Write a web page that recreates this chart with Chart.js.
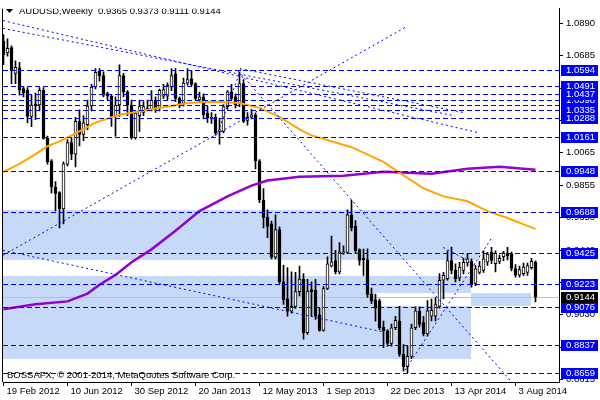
<!DOCTYPE html>
<html>
<head>
<meta charset="utf-8">
<title>AUDUSD Weekly</title>
<script src="https://cdn.jsdelivr.net/npm/chart.js@4.4.1/dist/chart.umd.min.js"></script>
<style>
  html, body { margin: 0; padding: 0; background: #ffffff; }
  canvas { display: block; }
</style>
</head>
<body>
<canvas id="chart" width="600" height="400"></canvas>
<script>
// weekly candles, bar 0 = week of 19 Feb 2012
const opens = [
  1.0776, 1.0700, 1.0735, 1.0570, 1.0605, 1.0473, 1.0462, 1.0295, 1.0375, 1.0368,
  1.0462, 1.0155, 1.0012, 0.9845, 0.9810, 0.9705, 0.9990, 1.0128, 1.0055, 1.0263,
  1.0180, 1.0243, 1.0362, 1.0483, 1.0585, 1.0556, 1.0441, 1.0425, 1.0295, 1.0368,
  1.0556, 1.0452, 1.0368, 1.0160, 1.0300, 1.0320, 1.0348, 1.0337, 1.0400, 1.0348,
  1.0424, 1.0424, 1.0483, 1.0567, 1.0410, 1.0379, 1.0508, 1.0535, 1.0504, 1.0400,
  1.0420, 1.0316, 1.0280, 1.0290, 1.0200, 1.0200, 1.0358, 1.0452, 1.0420, 1.0379,
  1.0504, 1.0270, 1.0290, 1.0306, 1.0012, 0.9762, 0.9651, 0.9610, 0.9397, 0.9573,
  0.9240, 0.9131, 0.9052, 0.9083, 0.9177, 0.9257, 0.8916, 0.9190, 0.9186, 0.9030,
  0.8930, 0.9197, 0.9340, 0.9375, 0.9303, 0.9425, 0.9428, 0.9668, 0.9594, 0.9445,
  0.9390, 0.9380, 0.9160, 0.9125, 0.9118, 0.8950, 0.8927, 0.8846, 0.8947, 0.8989,
  0.8777, 0.8698, 0.8764, 0.8947, 0.9052, 0.8980, 0.8907, 0.9020, 0.9020, 0.9083,
  0.9250, 0.9260, 0.9375, 0.9313, 0.9265, 0.9313, 0.9360, 0.9370, 0.9230, 0.9300,
  0.9313, 0.9365, 0.9428, 0.9355, 0.9370, 0.9400, 0.9422, 0.9420, 0.9325, 0.9282,
  0.9292, 0.9300, 0.9330, 0.9365
];
const highs = [
  1.0818, 1.0790, 1.0745, 1.0650, 1.0640, 1.0485, 1.0480, 1.0431, 1.0444, 1.0480,
  1.0480, 1.0170, 1.0020, 0.9880, 0.9816, 1.0005, 1.0147, 1.0160, 1.0290, 1.0337,
  1.0300, 1.0400, 1.0500, 1.0600, 1.0600, 1.0580, 1.0450, 1.0431, 1.0420, 1.0625,
  1.0570, 1.0460, 1.0400, 1.0330, 1.0400, 1.0390, 1.0400, 1.0460, 1.0420, 1.0470,
  1.0500, 1.0510, 1.0600, 1.0600, 1.0420, 1.0540, 1.0600, 1.0590, 1.0510, 1.0450,
  1.0440, 1.0360, 1.0320, 1.0310, 1.0285, 1.0370, 1.0460, 1.0500, 1.0440, 1.0577,
  1.0530, 1.0320, 1.0340, 1.0316, 1.0020, 0.9835, 0.9700, 0.9627, 0.9668, 0.9590,
  0.9345, 0.9330, 0.9303, 0.9300, 0.9340, 0.9292, 0.9255, 0.9240, 0.9255, 0.9070,
  0.9210, 0.9400, 0.9532, 0.9440, 0.9490, 0.9470, 0.9700, 0.9762, 0.9630, 0.9450,
  0.9449, 0.9450, 0.9200, 0.9160, 0.9130, 0.8989, 0.8935, 0.8970, 0.9020, 0.9083,
  0.8840, 0.8830, 0.8970, 0.9080, 0.9080, 0.9020, 0.9120, 0.9130, 0.9140, 0.9292,
  0.9300, 0.9437, 0.9461, 0.9355, 0.9365, 0.9390, 0.9420, 0.9386, 0.9345, 0.9370,
  0.9437, 0.9428, 0.9460, 0.9437, 0.9410, 0.9435, 0.9460, 0.9430, 0.9350, 0.9340,
  0.9360, 0.9360, 0.9390, 0.9373
];
const lows = [
  1.0625, 1.0680, 1.0505, 1.0505, 1.0431, 1.0420, 1.0253, 1.0230, 1.0274, 1.0330,
  1.0150, 0.9990, 0.9805, 0.9693, 0.9584, 0.9610, 0.9980, 1.0020, 0.9973, 1.0107,
  1.0140, 1.0210, 1.0330, 1.0470, 1.0520, 1.0420, 1.0400, 1.0232, 1.0170, 1.0295,
  1.0420, 1.0300, 1.0150, 1.0150, 1.0200, 1.0300, 1.0330, 1.0330, 1.0320, 1.0330,
  1.0410, 1.0400, 1.0460, 1.0390, 1.0350, 1.0360, 1.0495, 1.0490, 1.0400, 1.0385,
  1.0280, 1.0255, 1.0250, 1.0175, 1.0118, 1.0190, 1.0340, 1.0400, 1.0350, 1.0358,
  1.0255, 1.0240, 1.0280, 0.9960, 0.9745, 0.9584, 0.9522, 0.9386, 0.9386, 0.9230,
  0.9095, 0.9020, 0.9040, 0.9070, 0.9150, 0.8874, 0.8905, 0.9020, 0.9000, 0.8925,
  0.8925, 0.9190, 0.9335, 0.9290, 0.9290, 0.9415, 0.9420, 0.9564, 0.9420, 0.9346,
  0.9280, 0.9140, 0.9100, 0.8989, 0.8935, 0.8820, 0.8830, 0.8830, 0.8935, 0.8764,
  0.8670, 0.8660, 0.8750, 0.8935, 0.8950, 0.8895, 0.8895, 0.8990, 0.8990, 0.9072,
  0.9130, 0.9250, 0.9290, 0.9240, 0.9245, 0.9290, 0.9340, 0.9205, 0.9215, 0.9290,
  0.9300, 0.9345, 0.9355, 0.9303, 0.9355, 0.9375, 0.9380, 0.9310, 0.9270, 0.9270,
  0.9280, 0.9280, 0.9320, 0.9111
];
const closes = [
  1.0690, 1.0730, 1.0585, 1.0608, 1.0462, 1.0445, 1.0295, 1.0368, 1.0362, 1.0462,
  1.0155, 1.0006, 0.9845, 0.9804, 0.9705, 0.9992, 1.0128, 1.0055, 1.0264, 1.0180,
  1.0255, 1.0362, 1.0483, 1.0577, 1.0556, 1.0431, 1.0425, 1.0295, 1.0368, 1.0556,
  1.0452, 1.0368, 1.0160, 1.0316, 1.0358, 1.0358, 1.0337, 1.0400, 1.0342, 1.0462,
  1.0466, 1.0494, 1.0556, 1.0410, 1.0368, 1.0508, 1.0530, 1.0500, 1.0410, 1.0420,
  1.0306, 1.0285, 1.0290, 1.0190, 1.0210, 1.0358, 1.0452, 1.0410, 1.0368, 1.0504,
  1.0264, 1.0290, 1.0306, 1.0012, 0.9762, 0.9651, 0.9594, 0.9397, 0.9573, 0.9240,
  0.9125, 0.9052, 0.9083, 0.9177, 0.9257, 0.8916, 0.9180, 0.9177, 0.9020, 0.8930,
  0.9197, 0.9354, 0.9368, 0.9303, 0.9432, 0.9432, 0.9668, 0.9584, 0.9438, 0.9376,
  0.9380, 0.9160, 0.9118, 0.9072, 0.8947, 0.8927, 0.8846, 0.8947, 0.8994, 0.8777,
  0.8698, 0.8764, 0.8947, 0.9055, 0.8968, 0.8907, 0.9055, 0.9058, 0.9094, 0.9250,
  0.9282, 0.9375, 0.9313, 0.9260, 0.9334, 0.9365, 0.9386, 0.9220, 0.9323, 0.9340,
  0.9386, 0.9417, 0.9376, 0.9424, 0.9390, 0.9425, 0.9405, 0.9325, 0.9282, 0.9318,
  0.9334, 0.9344, 0.9370, 0.9144
];

// time axis labels, one every 16 weeks
const dateTickBars = [0, 16, 32, 48, 64, 80, 96, 112, 128];
const dateTicks = ["19 Feb 2012", "10 Jun 2012", "30 Sep 2012", "20 Jan 2013", "12 May 2013",
  "1 Sep 2013", "22 Dec 2013", "13 Apr 2014", "3 Aug 2014"];

// price scale
const priceTicks = [1.0890, 1.0685, 1.0475, 1.0270, 1.0065, 0.9855, 0.9650, 0.9440,
  0.9235, 0.9030, 0.8820, 0.8615];

// moving averages
const maFastBars = [0, 4, 8, 11, 14, 18, 23, 29, 32, 37, 42, 46, 50, 54, 59, 64, 69,
  74, 77, 87, 95, 99, 105, 110, 116, 121, 126, 131, 133];
const maFastValues = [0.9942, 0.9992, 1.0055, 1.0105, 1.0136, 1.0187, 1.0256, 1.0306,
  1.0318, 1.0343, 1.0362, 1.0381, 1.0387, 1.0387, 1.0381, 1.0350, 1.0293, 1.0212,
  1.0174, 1.0099, 1.0005, 0.9936, 0.9836, 0.9785, 0.9754, 0.9691, 0.9647, 0.9597, 0.9578];
const maSlowBars = [0, 8, 16, 21, 24, 28, 32, 37, 43, 49, 56, 62, 66, 74, 85, 95, 107,
  116, 124, 133];
const maSlowValues = [0.9065, 0.9096, 0.9115, 0.9165, 0.9221, 0.9284, 0.9365, 0.9447,
  0.9566, 0.9691, 0.9785, 0.9854, 0.9886, 0.9911, 0.9917, 0.9942, 0.9930, 0.9961,
  0.9974, 0.9955];

// horizontal levels (listed in the order their price tags get painted)
const levelPrices = [1.0594, 1.0491, 1.0366, 1.0398, 1.0335, 1.0437, 1.0288, 1.0161,
  0.9948, 0.9688, 0.9425, 0.9223, 0.9076, 0.8837, 0.8659];
const bidPrice = 0.9144;

// trend lines: [bar1, price1, bar2, price2]
const trendLines = [
  [-0.125, 1.0907, 118.4, 1.0193],
  [-0.125, 1.0857, 112.9, 1.0299],
  [59.1, 1.0600, 115.4, 1.0318],
  [-0.125, 0.9409, 100.9, 1.0870],
  [-0.125, 0.9441, 94.9, 0.8920],
  [58.6, 1.0588, 126.6, 0.8613],
  [53.6, 1.0193, 59.4, 1.0600],
  [100.4, 0.8676, 122.1, 0.9522],
  [109.9, 0.9459, 117.9, 0.9353]
];

// shaded zones: [bar1, bar2, top price, bottom price]
const zones = [
  [-0.125, 119.1, 0.9700, 0.9378],
  [-0.125, 116.9, 0.9278, 0.8745],
  [93.1, 131.9, 0.9171, 0.9083]
];

const FONT = "'Liberation Sans', Arial, sans-serif";
const LEVEL_BLUE = "#0000ff";
const ZONE_FILL = "rgb(198,217,248)";

const barIdx = opens.map((_, i) => i);
const wickData = barIdx.map(i => ({ x: i, y: [lows[i], highs[i]] }));
const bodyData = barIdx.map(i => ({ x: i, y: [Math.min(opens[i], closes[i]), Math.max(opens[i], closes[i])] }));
const bodyFill = barIdx.map(i => (closes[i] >= opens[i] ? "#ffffff" : "#000000"));

const crisp = v => Math.round(v) + 0.5;

const overlay = {
  id: "overlay",
  beforeDatasetsDraw(chart) {
    const { ctx, chartArea: a, scales: { x, y } } = chart;
    const rects = zones.map(z => ({
      l: Math.round(x.getPixelForValue(z[0])),
      r: Math.round(x.getPixelForValue(z[1])),
      t: Math.round(y.getPixelForValue(z[2])),
      b: Math.round(y.getPixelForValue(z[3]))
    }));
    ctx.save();
    ctx.beginPath();
    ctx.rect(a.left, a.top, a.width, a.height);
    ctx.clip();
    ctx.fillStyle = ZONE_FILL;
    rects.forEach(r => ctx.fillRect(r.l, r.t, r.r - r.l, r.b - r.t));
    // overlapping zones cancel each other out (terminal draws them xor)
    ctx.fillStyle = "#ffffff";
    for (let i = 0; i < rects.length; i++) {
      for (let j = i + 1; j < rects.length; j++) {
        const l = Math.max(rects[i].l, rects[j].l), r = Math.min(rects[i].r, rects[j].r);
        const t = Math.max(rects[i].t, rects[j].t), b = Math.min(rects[i].b, rects[j].b);
        if (r > l && b > t) ctx.fillRect(l, t, r - l, b - t);
      }
    }
    // bid line
    ctx.strokeStyle = "#c0c0c0";
    ctx.lineWidth = 1;
    const by = crisp(y.getPixelForValue(bidPrice));
    ctx.beginPath();
    ctx.moveTo(a.left, by);
    ctx.lineTo(a.right, by);
    ctx.stroke();
    ctx.restore();
  },
  afterDatasetsDraw(chart) {
    const { ctx, chartArea: a, scales: { x, y } } = chart;
    ctx.save();
    ctx.beginPath();
    ctx.rect(a.left, a.top, a.width, a.height);
    ctx.clip();
    ctx.strokeStyle = LEVEL_BLUE;
    ctx.lineWidth = 1;
    // dashed levels
    ctx.setLineDash([5, 3]);
    levelPrices.forEach(p => {
      const py = crisp(y.getPixelForValue(p));
      ctx.beginPath();
      ctx.moveTo(a.left, py);
      ctx.lineTo(a.right, py);
      ctx.stroke();
    });
    // dotted trend lines
    ctx.setLineDash([2, 3]);
    trendLines.forEach(t => {
      ctx.beginPath();
      ctx.moveTo(x.getPixelForValue(t[0]), y.getPixelForValue(t[1]));
      ctx.lineTo(x.getPixelForValue(t[2]), y.getPixelForValue(t[3]));
      ctx.stroke();
    });
    ctx.setLineDash([]);

    // header
    ctx.fillStyle = "#000000";
    ctx.beginPath();
    ctx.moveTo(a.left + 3, 9);
    ctx.lineTo(a.left + 10, 9);
    ctx.lineTo(a.left + 6.5, 13);
    ctx.closePath();
    ctx.fill();
    ctx.font = "9.5px " + FONT;
    ctx.textBaseline = "middle";
    ctx.textAlign = "left";
    const n = opens.length - 1;
    const ohlc = [opens[n], highs[n], lows[n], closes[n]].map(v => v.toFixed(4)).join(" ");
    ctx.fillText("AUDUSD,Weekly  " + ohlc, a.left + 16, 11);
    ctx.fillText("BOSSAFX, \u00a9 2001-2014, MetaQuotes Software Corp.", a.left + 4, a.bottom - 7);
    ctx.restore();
  },
  afterDraw(chart) {
    const { ctx, chartArea: a, scales: { y } } = chart;
    ctx.save();
    // left frame
    ctx.strokeStyle = "#000000";
    ctx.lineWidth = 1;
    ctx.beginPath();
    ctx.moveTo(a.left - 0.5, a.top);
    ctx.lineTo(a.left - 0.5, a.bottom);
    ctx.stroke();
    // price tags on the scale
    ctx.font = "9.5px " + FONT;
    ctx.textBaseline = "middle";
    ctx.textAlign = "left";
    const tag = (p, bg) => {
      const py = Math.round(y.getPixelForValue(p));
      ctx.fillStyle = bg;
      ctx.fillRect(a.right + 2, py - 5, 37, 11);
      ctx.fillStyle = "#ffffff";
      ctx.fillText(p.toFixed(4), a.right + 7, py + 0.5);
    };
    levelPrices.forEach(p => tag(p, LEVEL_BLUE));
    tag(bidPrice, "#000000");
    ctx.restore();
  }
};

Chart.defaults.font.family = FONT;
Chart.defaults.font.size = 9.5;
Chart.defaults.color = "#000000";

new Chart(document.getElementById("chart"), {
  type: "bar",
  data: {
    datasets: [
      {
        type: "line",
        data: maFastBars.map((b, i) => ({ x: b, y: maFastValues[i] })),
        borderColor: "#ffa500",
        borderWidth: 2,
        pointRadius: 0,
        order: 0
      },
      {
        type: "line",
        data: maSlowBars.map((b, i) => ({ x: b, y: maSlowValues[i] })),
        borderColor: "#9400d3",
        borderWidth: 2.5,
        pointRadius: 0,
        order: 0
      },
      {
        data: bodyData,
        backgroundColor: bodyFill,
        borderColor: "#000000",
        borderWidth: 1,
        borderSkipped: false,
        barThickness: 3,
        minBarLength: 1,
        grouped: false,
        order: 1
      },
      {
        data: wickData,
        backgroundColor: "#000000",
        borderWidth: 0,
        barThickness: 1,
        grouped: false,
        order: 2
      }
    ]
  },
  options: {
    responsive: false,
    animation: false,
    events: [],
    layout: { padding: { left: 3, top: 2, right: 0, bottom: 0 } },
    plugins: { legend: { display: false }, tooltip: { enabled: false } },
    scales: {
      x: {
        type: "linear",
        min: -0.125,
        max: 138.875,
        offset: false,
        afterFit: s => { s.height = 18; },
        afterBuildTicks: s => { s.ticks = dateTickBars.map(v => ({ value: v })); },
        grid: { drawOnChartArea: false, tickLength: 4, color: "#000000", offset: false },
        border: { color: "#000000" },
        ticks: {
          align: "start",
          labelOffset: 3,
          maxRotation: 0,
          autoSkip: false,
          padding: 0,
          callback: (v, idx) => dateTicks[idx]
        }
      },
      y: {
        position: "right",
        min: 0.86006,
        max: 1.09826,
        afterFit: s => { s.width = 41; },
        afterBuildTicks: s => { s.ticks = priceTicks.map(v => ({ value: v })); },
        grid: { drawOnChartArea: false, tickLength: 4, color: "#000000" },
        border: { color: "#000000" },
        ticks: { autoSkip: false, padding: 3, callback: v => v.toFixed(4) }
      }
    }
  },
  plugins: [overlay]
});
</script>
</body>
</html>
